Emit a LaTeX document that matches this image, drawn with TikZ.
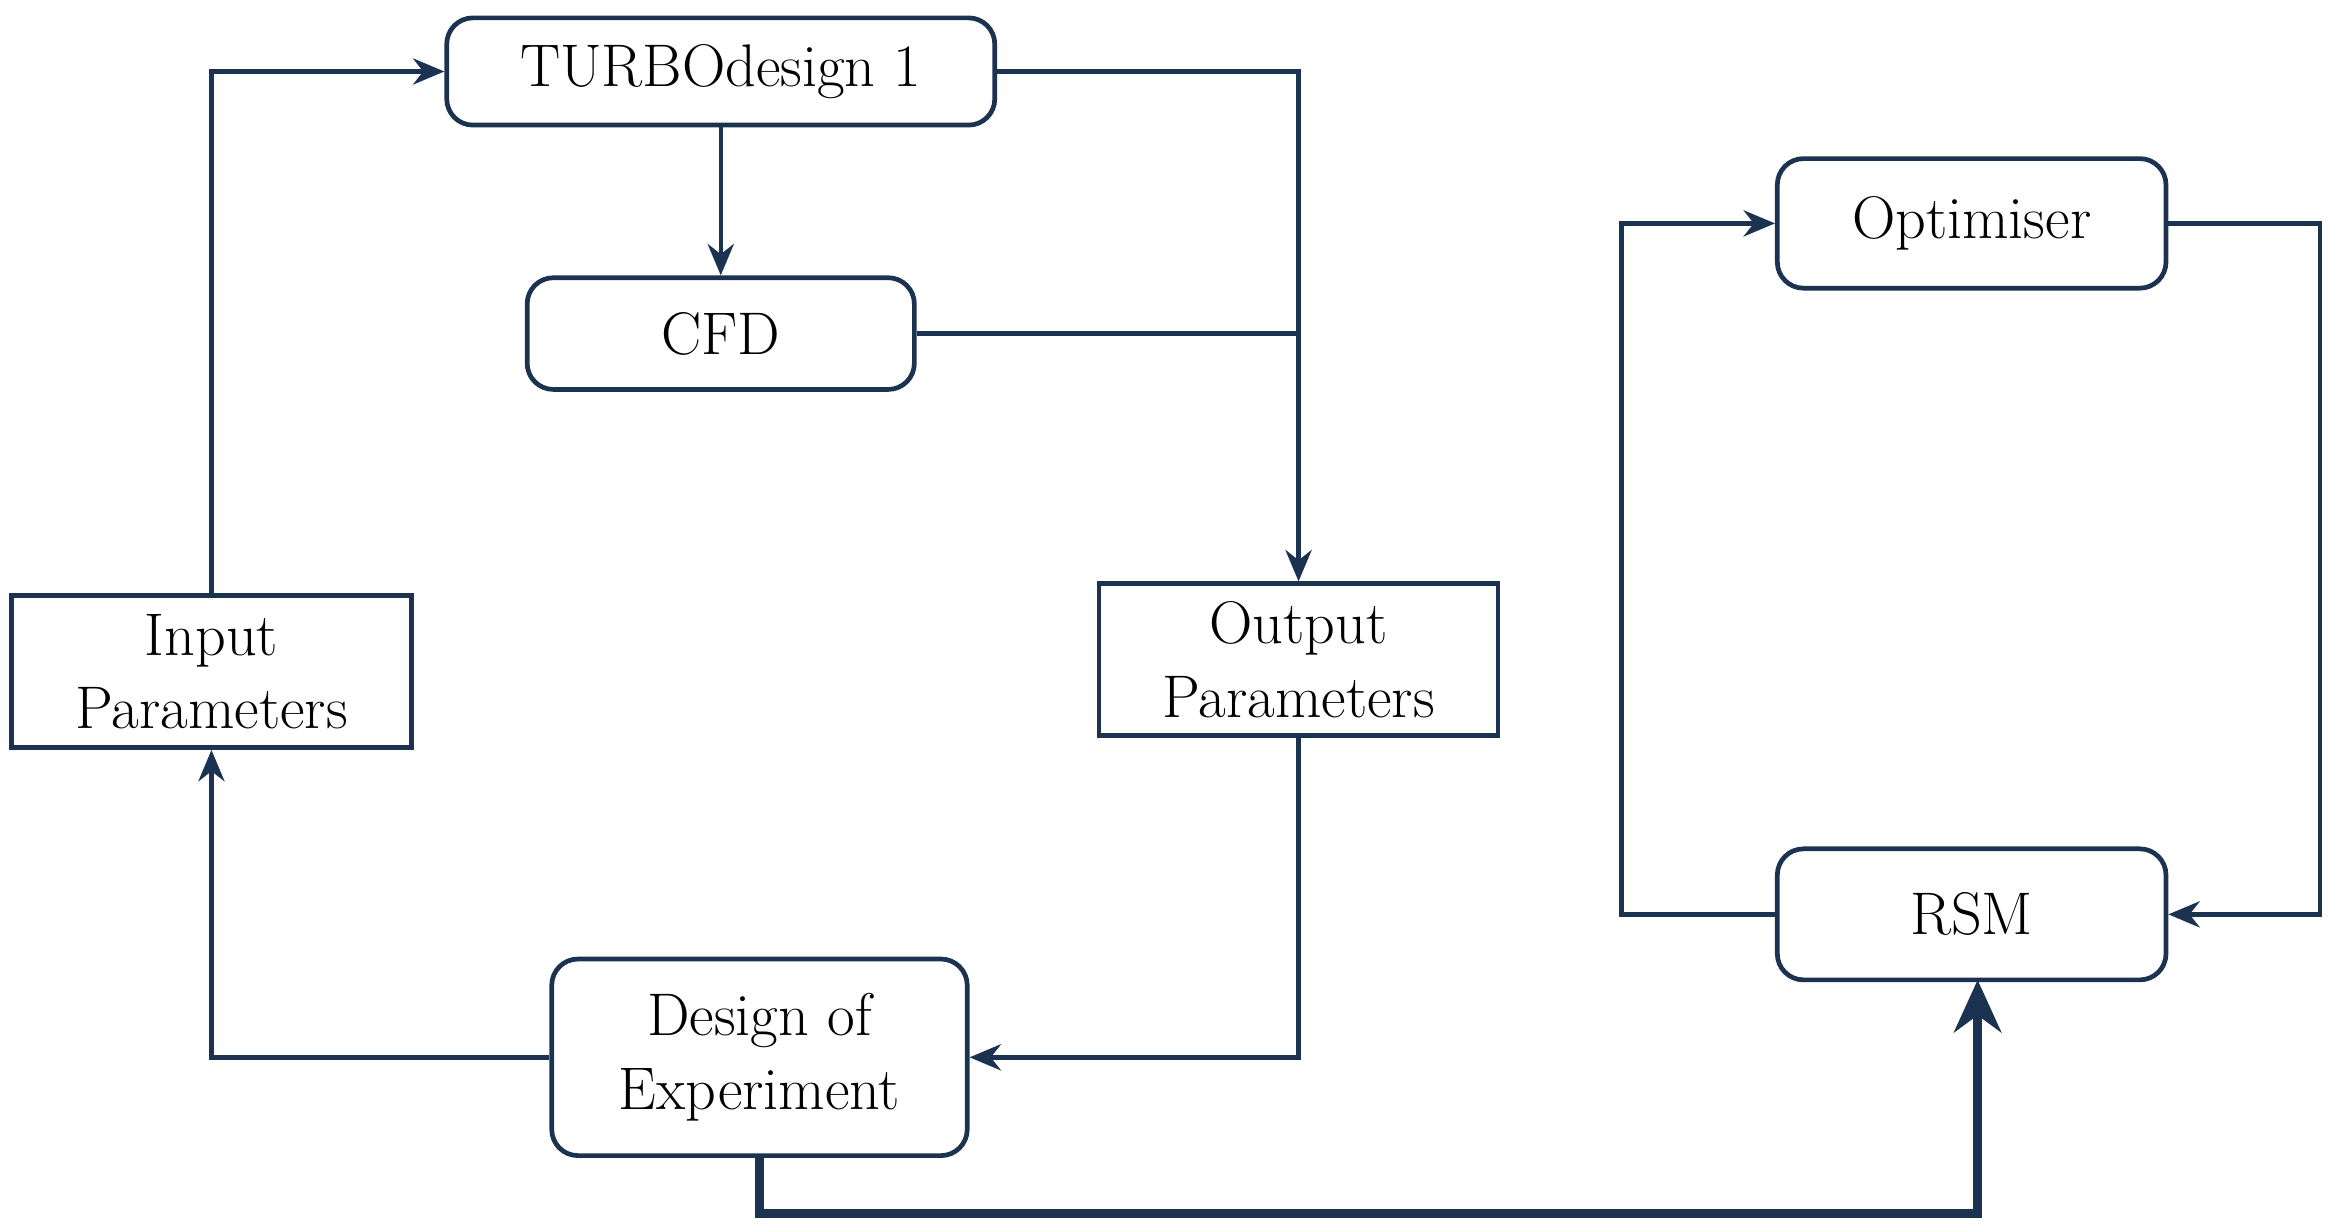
\documentclass[tikz,border=0pt]{standalone}
\usetikzlibrary{arrows.meta}
\definecolor{navy}{HTML}{1B3350}
\begin{document}
\begin{tikzpicture}[x=0.02cm,y=-0.02cm,
  box/.style={draw=navy,line width=1.8pt,align=center,inner sep=0pt,font=\fontsize{23}{28}\selectfont,text=black},
  rbox/.style={box,rounded corners=10pt},
  conn/.style={draw=navy,line width=1.7pt,-{Stealth[length=12pt,width=10pt]}},
  line/.style={draw=navy,line width=1.7pt}]
\useasboundingbox (0,0) rectangle (1568,826);
\node[rbox,minimum width=368*0.02cm,minimum height=72*0.02cm] (td) at (484,48) {TURBOdesign 1};
\node[rbox,minimum width=260*0.02cm,minimum height=75*0.02cm] (cfd) at (484,224) {CFD};
\node[box,minimum width=269*0.02cm,minimum height=102*0.02cm] (in) at (142,451) {Input\\Parameters};
\node[box,minimum width=268*0.02cm,minimum height=102*0.02cm] (out) at (872,443) {Output\\Parameters};
\node[rbox,minimum width=279*0.02cm,minimum height=132*0.02cm] (doe) at (510,710) {Design of\\Experiment};
\node[rbox,minimum width=261*0.02cm,minimum height=87*0.02cm] (opt) at (1324,150) {Optimiser};
\node[rbox,minimum width=261*0.02cm,minimum height=88*0.02cm] (rsm) at (1324,614) {RSM};
\coordinate (j) at (872,224);
\draw[conn] (in.north) |- (td.west);
\draw[conn] (td.south) -- (cfd.north);
\draw[conn] (td.east) -| (out.north);
\draw[line] (cfd.east) -- (j);
\draw[conn] (out.south) |- (doe.east);
\draw[conn] (doe.west) -| (in.south);
\draw[draw=navy,line width=3.4pt,-{Stealth[length=20pt,width=18pt]}] (doe.south) |- (1328,815) -- (1328,658);
\draw[conn] (rsm.west) -- (1089,614) |- (opt.west);
\draw[conn] (opt.east) -- (1558,150) |- (rsm.east);
\end{tikzpicture}
\end{document}
